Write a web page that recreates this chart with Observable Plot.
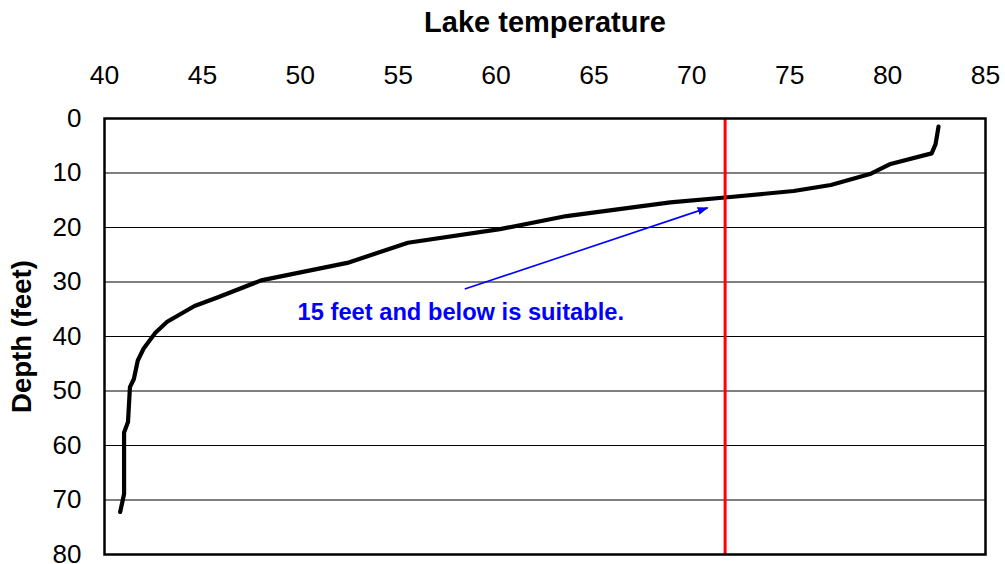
<!DOCTYPE html>
<html>
<head>
<meta charset="utf-8">
<script src="https://cdn.jsdelivr.net/npm/d3@7"></script>
<script src="https://cdn.jsdelivr.net/npm/@observablehq/plot@0.6"></script>
<style>
  html, body { margin: 0; padding: 0; background: #fff; }
  #chart { width: 1005px; height: 564px; }
</style>
</head>
<body>
<div id="chart"></div>
<script>
// ---- Data ----
const temperature = [82.6, 82.45, 82.25, 80.1, 79.1, 77.1, 75.2, 71.7, 68.9, 63.6, 60.2, 55.5, 52.4, 48.0, 45.8, 44.6, 43.2, 42.6, 42.0, 41.7, 41.5, 41.3, 41.2, 41.0, 41.0, 40.8];
const depth       = [1.5,  4.7,   6.4,   8.4,  10.2, 12.2, 13.3, 14.5, 15.4, 17.9, 20.3, 22.8, 26.5, 29.7, 32.8, 34.4, 37.3, 39.3, 42.2, 44.4, 47.8, 49.3, 55.7, 57.6, 68.9, 72.2];
const xTicks = [40, 45, 50, 55, 60, 65, 70, 75, 80, 85];
const yTicks = [0, 10, 20, 30, 40, 50, 60, 70, 80];
const gridDepths = [10, 20, 30, 40, 50, 60, 70];
const thresholdTemp = [71.7];
const xTitle = ["Lake temperature"];
const yTitle = ["Depth (feet)"];
const noteText = ["15 feet and below is suitable."];
const noteTemp = [58.2];
const noteDepth = [35.5];
const arrowFromTemp = [58.4], arrowFromDepth = [31.3];
const arrowToTemp = [70.8], arrowToDepth = [16.4];

const profile = temperature.map((t, i) => ({temp: t, depth: depth[i]}));
const note = noteText.map((s, i) => ({text: s, temp: noteTemp[i], depth: noteDepth[i]}));
const arrows = arrowFromTemp.map((t, i) => ({x1: t, y1: arrowFromDepth[i], x2: arrowToTemp[i], y2: arrowToDepth[i]}));

function filledArrow(color, context) {
  const m = d3.create("svg:marker")
    .attr("viewBox", "-5 -5 10 10")
    .attr("markerUnits", "userSpaceOnUse")
    .attr("markerWidth", 11)
    .attr("markerHeight", 11)
    .attr("refX", 4)
    .attr("refY", 0)
    .attr("orient", "auto")
    .attr("fill", color)
    .attr("stroke", "none");
  m.append("path").attr("d", "M-5,-3.6L5,0L-5,3.6Z");
  return m.node();
}

const font = "'Liberation Sans', Arial, Helvetica, sans-serif";

const chart = Plot.plot({
  width: 1005,
  height: 564,
  marginLeft: 104,
  marginRight: 20,
  marginTop: 118,
  marginBottom: 10,
  style: {fontFamily: font, fontSize: "26px", color: "#000", background: "#fff", overflow: "visible"},
  x: {domain: [40, 85]},
  y: {domain: [0, 80], reverse: true},
  marks: [
    Plot.ruleY(gridDepths, {stroke: "#000", strokeWidth: 1.2}),
    Plot.axisX(xTicks, {anchor: "top", tickSize: 0, tickPadding: 35, label: null, fontSize: 26.5, fill: "#000"}),
    Plot.axisY(yTicks, {anchor: "left", tickSize: 0, tickPadding: 23, label: null, fontSize: 26, fill: "#000"}),
    Plot.line(profile, {x: "temp", y: "depth", stroke: "#000", strokeWidth: 4.2, strokeLinejoin: "round", strokeLinecap: "round"}),
    Plot.ruleX(thresholdTemp, {stroke: "#ff0000", strokeWidth: 3}),
    Plot.link(arrows, {x1: "x1", y1: "y1", x2: "x2", y2: "y2", stroke: "#0000ff", strokeWidth: 1.6, markerEnd: filledArrow}),
    Plot.text(note, {x: "temp", y: "depth", text: "text", fill: "#0000ff", fontWeight: "bold", fontSize: 23.7}),
    Plot.frame({stroke: "#000", strokeWidth: 2.5}),
    Plot.text(xTitle, {frameAnchor: "top", dy: -96, text: d => d, fontWeight: "bold", fontSize: 29, fill: "#000", lineAnchor: "middle", textAnchor: "middle"}),
    Plot.text(yTitle, {frameAnchor: "left", dx: -82, rotate: -90, text: d => d, fontWeight: "bold", fontSize: 27.5, fill: "#000", lineAnchor: "middle", textAnchor: "middle"})
  ]
});
document.getElementById("chart").appendChild(chart);
</script>
</body>
</html>
